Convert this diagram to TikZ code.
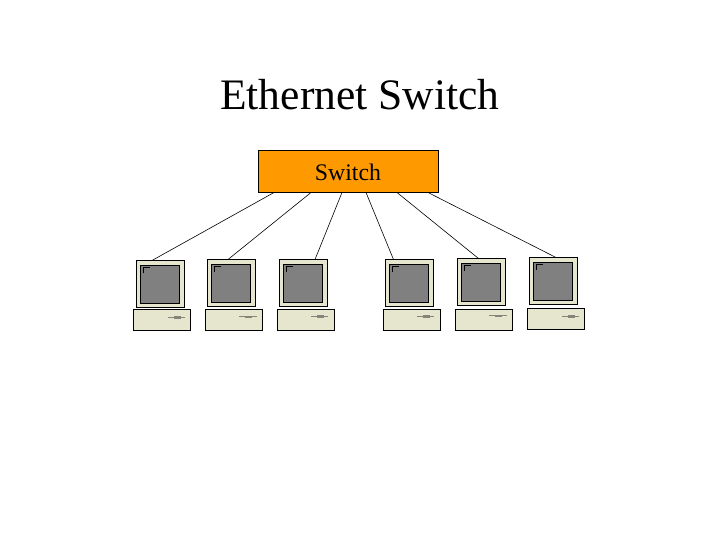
\documentclass[tikz,border=0pt]{standalone}
\usetikzlibrary{calc}
\usepackage{fontspec}
\setmainfont{Liberation Serif}
\definecolor{swfill}{HTML}{FF9900}
\definecolor{beige}{HTML}{E6E6CF}
\definecolor{scr}{HTML}{808080}
\definecolor{slot}{HTML}{85857A}
\tikzset{
  box/.style={draw=black,fill=#1,line width=1.1pt,inner sep=0pt,outer sep=0pt,anchor=north west},
  link/.style={draw=black,line width=0.6pt},
  mon/.pic={
    \node[box=beige,minimum width=48pt,minimum height=47pt] (-mon) at (136.5,260.5) {};
    \node[box=scr,line width=1.2pt,minimum width=39pt,minimum height=38pt] (-scr) at (140.5,265.5) {};
    \draw[black,line width=1pt] (143.5,273) -- (143.5,267.5) -- (149.5,267.5);
  },
  tower/.pic={
    \node[box=beige,minimum width=57pt,minimum height=21pt] (-base) at (133.5,309.5) {};
  },
  slotA/.pic={
    \draw[slot,line width=0.9pt] (168,317.5) -- (185,317.5);
    \draw[slot,line width=2.8pt] (174,317.5) -- (180.5,317.5);
  },
  slotB/.pic={
    \draw[slot,line width=0.9pt] (239,316.5) -- (257,316.5);
    \draw[slot,line width=1.8pt] (245,317.2) -- (252,317.2);
  }
}
\begin{document}
\begin{tikzpicture}[x=1pt,y=-1pt]
\useasboundingbox (0,0) rectangle (720,540);
\node[anchor=base,font=\fontsize{43.5}{44}\selectfont] (title) at (359.8,110) {Ethernet Switch};
\node[box=swfill,minimum width=180pt,minimum height=42pt] (sw) at (258.5,150.5) {};
\node[anchor=base,font=\fontsize{23.8}{24}\selectfont,text=black] (swlabel) at (348,181) {Switch};
\pic (p1) at (0,0) {mon};
\pic (p2) at (71,-1) {mon};
\pic (p3) at (143,-1) {mon};
\pic (p4) at (249,-1) {mon};
\pic (p5) at (321,-2) {mon};
\pic (p6) at (393,-3) {mon};
\pic (b1) at (0,0) {tower};
\pic (b2) at (72,0) {tower};
\pic (b3) at (144,0) {tower};
\pic (b4) at (250,0) {tower};
\pic (b5) at (322,0) {tower};
\pic (b6) at (394,-1) {tower};
\pic at (0,0) {slotA};
\pic at (0,0) {slotB};
\pic at (143,-1) {slotA};
\pic at (249,-1) {slotA};
\pic at (250,-1) {slotB};
\pic at (394,-1) {slotA};
\coordinate (s1) at ($(sw.south west)+(15.5,0)$);
\coordinate (s2) at ($(sw.south west)+(52.5,0)$);
\coordinate (s3) at ($(sw.south west)+(83.5,0)$);
\coordinate (s4) at ($(sw.south west)+(107.5,0)$);
\coordinate (s5) at ($(sw.south west)+(138.5,0)$);
\coordinate (s6) at ($(sw.south west)+(169.5,0)$);
\draw[link] (s1) -- ($(p1-mon.north west)+(15.5,0)$);
\draw[link] (s2) -- ($(p2-mon.north west)+(20.5,0)$);
\draw[link] (s3) -- ($(p3-mon.north west)+(35.5,0)$);
\draw[link] (s4) -- ($(p4-mon.north west)+(8,0)$);
\draw[link] (s5) -- ($(p5-mon.north west)+(21,0)$);
\draw[link] (s6) -- ($(p6-mon.north west)+(26.5,0)$);
\end{tikzpicture}
\end{document}
